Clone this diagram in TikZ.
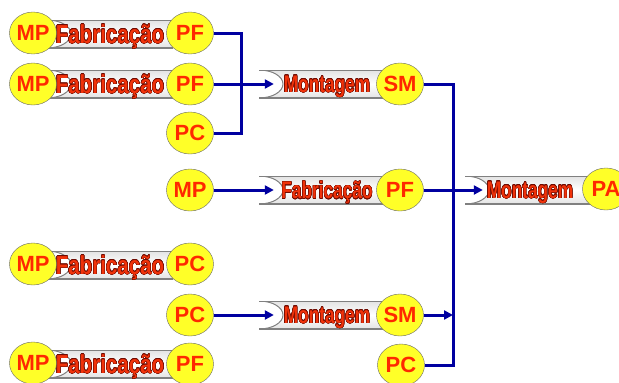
\documentclass[tikz,border=0pt]{standalone}
\usepackage{fontspec}
\setmainfont{Liberation Sans}
\usepackage[copies]{contour}
\contourlength{0.5pt}
\usetikzlibrary{shapes.geometric,arrows.meta}
\definecolor{flowblue}{RGB}{0,0,160}
\definecolor{stockfill}{RGB}{255,255,40}
\definecolor{stocktext}{RGB}{255,40,0}
\definecolor{wordred}{RGB}{240,50,10}
\definecolor{wordedge}{RGB}{110,10,0}
\newcommand{\procword}[2]{\scalebox{#1}[1]{\textcolor{wordred}{\contour{wordedge}{#2}}}}

\begin{document}
\begin{tikzpicture}[x=1pt,y=-1pt]
            \tikzset{
            stock/.style={ellipse,draw=gray!80!black,fill=stockfill,minimum width=47pt,minimum height=42pt,inner sep=0,
                font=\fontsize{22}{22}\selectfont\bfseries,text=stocktext},
            tube/.style={rectangle,minimum width=#1,minimum height=28pt,inner sep=0,text depth=0pt,
                path picture={
                \path[top color=gray!22,bottom color=gray!22,middle color=white]
                    (path picture bounding box.north west) arc[start angle=90,end angle=-90,x radius=24pt,y radius=14pt]
                    -| (path picture bounding box.north east) -- cycle;
                \draw[gray,line width=2.4pt]
                    (path picture bounding box.north west) -- (path picture bounding box.north east)
                    (path picture bounding box.south west) -- (path picture bounding box.south east);
                \draw[gray,line width=1pt]
                    (path picture bounding box.north west) arc[start angle=90,end angle=-90,x radius=24pt,y radius=14pt];
                }},
            big word/.style={font=\fontsize{26}{26}\selectfont\bfseries},
            small word/.style={font=\fontsize{24}{24}\selectfont\bfseries},
            link/.style={draw=flowblue,line width=3pt},
            arr/.style={link,-{Triangle[length=9pt,width=9pt]}}
            }
            \clip (0,0) rectangle (619,383);

            % fabricacao a esquerda
            \node[tube=126pt,big word] (fab1) at (110,34) {\procword{.79}{Fabricação}};
            \node[tube=126pt,big word] (fab2) at (110,84) {\procword{.79}{Fabricação}};
            \node[tube=126pt,big word] (fab3) at (110,265) {\procword{.79}{Fabricação}};
            \node[tube=126pt,big word] (fab4) at (110,364) {\procword{.79}{Fabricação}};
            \node[stock] (mp1) at (33,33) {MP};
            \node[stock] (pf1) at (190,33) {PF};
            \node[stock] (mp2) at (33,84) {MP};
            \node[stock] (pf2) at (190,84) {PF};
            \node[stock] (pc1) at (190,133) {PC};
            \node[stock] (mp3) at (190,190) {MP};
            \node[stock] (mp4) at (33,264) {MP};
            \node[stock] (pc2) at (190,264) {PC};
            \node[stock] (pc3) at (190,315) {PC};
            \node[stock] (mp5) at (33,363) {MP};
            \node[stock] (pf4) at (190,364) {PF};

            % etapas do meio
            \node[tube=136pt,small word] (monta) at (327,84) {\procword{.72}{Montagem}};
            \node[tube=136pt,small word] (fabb) at (327,190) {\procword{.72}{Fabricação}};
            \node[tube=136pt,small word] (montb) at (327,315) {\procword{.72}{Montagem}};
            \node[stock] (sm1) at (400,84) {SM};
            \node[stock] (pf3) at (400,190) {PF};
            \node[stock] (sm2) at (400,315) {SM};
            \node[stock] (pc4) at (401,365) {PC};

            % montagem final
            \node[tube=130pt,small word] (montf) at (530,190) {\procword{.72}{Montagem}};
            \node[stock] (pa) at (606,189) {PA};

            \coordinate (bus1) at (241,0);
            \coordinate (bus2) at (453,0);
            \draw[link] (pf1) -| (bus1 |- pc1) -- (pc1);
            \draw[arr] (pf2) -- ([xshift=15pt]monta.west);
            \draw[arr] (mp3) -- ([xshift=15pt]fabb.west);
            \draw[arr] (pc3) -- ([xshift=15pt]montb.west);
            \draw[link] (sm1) -| (bus2 |- pc4) -- (pc4);
            \draw[arr] (sm2) -- (bus2 |- sm2);
            \draw[arr] (pf3) -- ([xshift=18pt]montf.west);
        \end{tikzpicture}
\end{document}
